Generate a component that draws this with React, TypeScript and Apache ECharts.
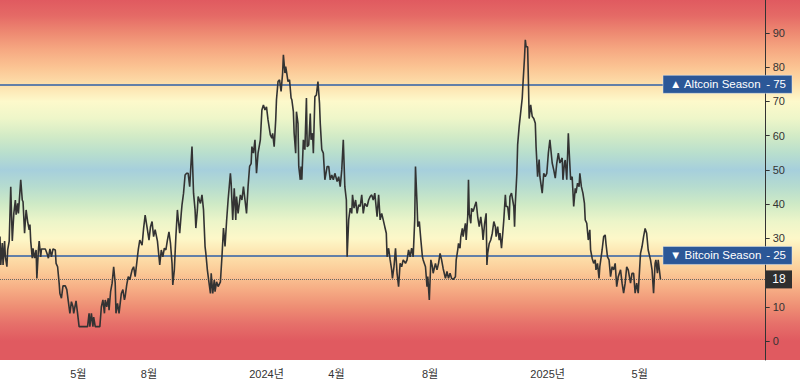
import { useEffect, useRef } from 'react';
import * as echarts from 'echarts';

// ---- data ----
const startDate = '2023-01-19';
const dayOffsets = [
  0, 1, 3, 4, 6, 7, 9, 10, 12, 14, 16, 18, 20, 21, 23, 24, 27, 29, 30, 32, 34, 36, 38, 39, 40, 42, 43, 45, 47, 48,
  50, 51, 53, 54, 59, 61, 63, 65, 67, 69, 72, 73, 75, 77, 78, 80, 82, 85, 87, 89, 91, 93, 95, 96, 99, 101, 103, 109,
  114, 116, 117, 119, 121, 122, 124, 130, 132, 134, 136, 137, 139, 141, 142, 144, 146, 148, 150, 151, 153, 155, 158,
  160, 162, 163, 165, 167, 169, 172, 174, 176, 178, 180, 182, 185, 187, 189, 192, 194, 196, 198, 200, 202, 205, 207,
  208, 210, 212, 214, 216, 218, 220, 222, 224, 225, 227, 229, 231, 232, 234, 236, 237, 239, 241, 243, 245, 247, 248,
  250, 252, 254, 255, 257, 258, 261, 263, 265, 267, 268, 270, 272, 274, 275, 277, 279, 280, 282, 284, 287, 289, 291,
  293, 295, 297, 300, 301, 303, 305, 307, 308, 310, 313, 315, 317, 319, 321, 323, 325, 327, 328, 330, 332, 334, 336,
  339, 341, 343, 345, 347, 349, 352, 354, 355, 357, 359, 360, 362, 364, 366, 368, 369, 371, 372, 373, 375, 377, 379,
  380, 382, 383, 385, 386, 388, 389, 391, 392, 393, 395, 397, 399, 400, 402, 404, 405, 407, 408, 410, 412, 414, 416,
  417, 419, 421, 423, 426, 428, 430, 432, 434, 436, 439, 441, 443, 445, 447, 449, 451, 452, 454, 456, 458, 459, 461,
  463, 465, 467, 469, 471, 473, 475, 478, 480, 482, 484, 486, 488, 491, 493, 495, 497, 499, 501, 503, 504, 506, 508,
  510, 511, 513, 515, 517, 519, 521, 523, 525, 528, 530, 532, 534, 536, 538, 540, 541, 543, 544, 546, 548, 550, 551,
  554, 556, 557, 559, 561, 563, 564, 567, 569, 571, 573, 575, 577, 580, 582, 584, 586, 588, 590, 593, 594, 596, 597,
  599, 600, 602, 603, 606, 607, 609, 610, 611, 613, 614, 616, 618, 620, 622, 624, 626, 628, 629, 631, 633, 634, 635,
  637, 639, 641, 643, 645, 646, 648, 650, 651, 653, 655, 656, 658, 659, 661, 663, 664, 666, 669, 670, 671, 673, 674,
  676, 680, 681, 683, 684, 685, 687, 688, 689, 691, 693, 695, 697, 698, 700, 702, 703, 706, 708, 710, 712, 714, 716,
  719, 721, 723, 725, 727, 729, 732, 733, 735, 736, 738, 740, 741, 743, 745, 747, 749, 750, 752, 754, 755, 757, 759,
  761, 762, 764, 766, 768, 769, 771, 773, 775, 776, 778, 780, 781, 784, 786, 788, 789, 791, 793, 795, 797, 799, 801,
  803, 805, 808, 810, 812, 814, 816, 818, 821, 823, 825, 827, 829, 831, 834, 836, 838, 840, 842, 844, 847, 849, 851,
  853, 854, 856, 857, 860,
];
const indexValues = [
  30.5, 22.2, 28.6, 22.2, 29.2, 24.6, 21.7, 26.6, 29.2, 45.1, 29.2, 37.3, 41.2, 36.9, 40.2, 37.3, 47.1, 41.2, 40.7,
  31.5, 38.3, 34.9, 32.5, 34, 29.2, 24.2, 27.1, 24.2, 26.6, 18.3, 26.6, 29.2, 24.6, 26.9, 26.9, 25.7, 24.2, 26.9,
  24.6, 26.9, 26.6, 22.7, 21.7, 16.9, 13.9, 12.5, 16.1, 16.1, 15, 11.5, 8.1, 11.5, 10, 8.1, 11.7, 8.1, 4.2, 4.2,
  4.2, 8.1, 4.2, 8.1, 4.2, 7, 4.2, 4.2, 10, 12, 8.1, 12, 10, 12.5, 9, 14.4, 16.9, 21.7, 16.9, 8.1, 11, 8.1, 13.9,
  15, 12, 13, 16.4, 18.8, 17.9, 20.8, 21.7, 18.8, 22.7, 26.6, 29.5, 28, 32.9, 36.8, 32.5, 29.5, 33.4, 34.9, 30.5,
  32.5, 29.2, 24.6, 22.2, 26.6, 24.6, 27.1, 26.6, 29.5, 31.9, 28.5, 22.7, 16.4, 20.8, 30.5, 38.3, 35.8, 31.5, 37.3,
  39.8, 43.2, 48.5, 49, 49, 45.1, 49, 56.8, 43.2, 38.3, 33, 38.3, 42.2, 40.2, 42.7, 38.3, 27.6, 25.7, 20.8, 17.3,
  13.9, 19.8, 13.9, 17.8, 14.4, 17.3, 15.9, 17.3, 24.6, 33, 27.6, 34.9, 41.2, 49, 46.1, 35.4, 44.6, 35.4, 42.2,
  37.3, 42.7, 41.2, 45.1, 41.2, 37.3, 45.1, 51, 51.8, 56.8, 54.9, 58.8, 49, 54.9, 58.8, 67.5, 69, 67.5, 68.4, 64.6,
  60.2, 59.3, 60.7, 56.8, 64.6, 70.5, 75.8, 76.3, 72.9, 78.3, 83.6, 78.3, 80.2, 78.8, 75.8, 76.3, 71, 70.5, 67,
  60.7, 54.9, 67, 63.6, 51, 47.1, 51, 47.1, 58.8, 55.9, 71, 56.8, 57.3, 66.5, 58.8, 60.7, 54.9, 71.4, 71.9, 75.8,
  69.5, 63.6, 55.9, 54.9, 47.1, 51, 51, 47.1, 48.5, 47.1, 49, 46.6, 48, 45.1, 50, 58.8, 45.1, 41.2, 24.6, 35.4, 38.8,
  37.3, 42.7, 38.8, 41.2, 37.3, 39.8, 39.3, 42.7, 37.3, 40.2, 39.3, 41.2, 42.2, 42.7, 41.2, 43.2, 36.3, 42.7, 35.4,
  37.3, 35.4, 33.4, 31.5, 24.6, 27.1, 23.7, 20.8, 18.3, 21.7, 27.1, 19.8, 15.9, 22.7, 21.7, 23.7, 22.7, 23.7, 26.6,
  24.6, 27.1, 24.6, 35.4, 51, 40.2, 33.4, 34.9, 29.5, 24.6, 23.7, 21.7, 15.9, 18.8, 12, 23.7, 21.7, 19.8, 22.7,
  20.8, 22.7, 25.6, 23.7, 21.2, 18.3, 20.3, 18.3, 19.8, 18.3, 18, 18.8, 23.7, 26.6, 28.5, 27.1, 30.5, 32.9, 30.5,
  34.4, 29.5, 36.3, 47.1, 37.3, 34.4, 38.8, 37.8, 39.3, 40.7, 36.3, 33.4, 36.3, 32.5, 29.5, 34.4, 37.3, 22.2, 25.6,
  28.5, 29.5, 31.5, 34.9, 33.4, 30.5, 33.4, 29.5, 31.5, 27.1, 32.5, 35.4, 42.7, 39.3, 39.3, 35.4, 42.2, 43.2, 39.3,
  33.4, 40.2, 49, 57.3, 62.7, 71, 75.3, 83, 88, 86, 86, 76.3, 65, 69, 65.6, 65, 63.6, 56.8, 48, 53, 48, 43.2, 49, 48,
  49, 54.9, 58.8, 52, 50, 47.6, 52, 54.9, 52, 53.5, 47.1, 52, 52.9, 47.1, 60.7, 55.9, 47.1, 48, 39.3, 44.6, 43.2,
  46.1, 45.1, 49, 45.1, 43.2, 40.2, 35.4, 34.4, 29.5, 32.5, 26.6, 24.2, 22.7, 23.7, 20.8, 22.7, 18.3, 21.7, 26.6,
  30.5, 31, 28.5, 24.6, 23.7, 18.8, 21.7, 20.8, 22.7, 15.9, 18.8, 20.8, 16.9, 14, 16.9, 21.7, 20.8, 16.9, 19.8,
  19.8, 14, 16.9, 14, 25.6, 27.6, 30.5, 32.9, 31.5, 26.6, 23.7, 20.8, 14, 22.7, 23.7, 19.8, 23.7, 18,
];
const xTickDates = ['2023-05-01', '2023-08-01', '2024-01-01', '2024-04-01', '2024-08-01', '2025-01-01', '2025-05-01'];
const yTickValues = [0, 10, 20, 30, 40, 50, 60, 70, 80, 90];
const yLabelValues = [0, 10, 30, 40, 50, 60, 70, 80, 90]; // 20 is hidden behind the current-value tag
const altcoinLevel = 75;
const bitcoinLevel = 25;
const currentValue = 18;
const xRange = ['2023-01-19', '2025-10-12'];
const yRange = [-5.55, 99.64];
const bandValues = [100, 95, 90, 85, 80, 75, 70, 65, 60, 55, 50, 45, 40, 35, 30, 25, 20, 15, 10, 5, 0];

// ---- styles ----
const bandColors = [
  '#e05a60', '#e56a66', '#ee8a72', '#f6a982', '#fbc493', '#fddfab', '#fdf9cb', '#eef6c9', '#d3ebc6', '#b9dfcd',
  '#a6cfdc', '#b6dccf', '#cfeac6', '#ecf5c9', '#fdf8c9', '#fde1ac', '#fbc996', '#f6ac84', '#ee8e74', '#e6706a',
  '#e05a60',
];
const FONT = '"Liberation Sans", "Noto Sans CJK KR", sans-serif';

function parseDate(s: string) {
  const [y, m, d] = s.split('-').map(Number);
  return new Date(y, m - 1, d).getTime();
}

export default function App() {
  const ref = useRef<HTMLDivElement>(null);
  useEffect(() => {
    if (!ref.current) return;
    const chart = echarts.init(ref.current, null, { renderer: 'svg' });
    const t0 = parseDate(startDate);
    const data = dayOffsets.map((d, i) => [t0 + d * 86400000, indexValues[i]]);
    const span = yRange[1] - yRange[0];
    const stops = bandValues.map((v, i) => ({
      offset: Math.min(1, Math.max(0, (yRange[1] - v) / span)),
      color: bandColors[i],
    }));
    chart.setOption({
      animation: false,
      backgroundColor: '#ffffff',
      grid: { left: 0, right: 34.3, top: 0, bottom: 24 },
      xAxis: {
        type: 'value',
        min: parseDate(xRange[0]),
        max: parseDate(xRange[1]),
        axisLine: { show: false },
        axisTick: { show: false },
        splitLine: { show: false },
        axisLabel: {
          customValues: xTickDates.map(parseDate),
          color: '#333',
          fontSize: 11,
          fontFamily: FONT,
          margin: 8,
          formatter: (val: number) => {
            const d = new Date(val);
            return d.getMonth() === 0 ? `${d.getFullYear()}년` : `${d.getMonth() + 1}월`;
          },
        },
      },
      yAxis: {
        type: 'value',
        position: 'right',
        min: yRange[0],
        max: yRange[1],
        splitLine: { show: false },
        axisLine: { show: true, lineStyle: { color: '#333', width: 1 } },
        axisTick: { show: true, customValues: yTickValues, length: 4, lineStyle: { color: '#333' } },
        axisLabel: {
          customValues: yLabelValues,
          color: '#333',
          fontSize: 11,
          fontFamily: FONT,
          margin: 7,
        },
      },
      series: [
        {
          type: 'line',
          data,
          showSymbol: false,
          symbol: 'none',
          z: 5,
          lineStyle: { color: '#333333', width: 1.6 },
          markLine: {
            silent: true,
            symbol: 'none',
            label: { show: false },
            z: 3,
            data: [
              { yAxis: altcoinLevel, lineStyle: { color: '#2f5fa7', width: 1.5, type: 'solid' } },
              { yAxis: bitcoinLevel, lineStyle: { color: '#2f5fa7', width: 1.5, type: 'solid' } },
              { yAxis: currentValue, lineStyle: { color: '#666', width: 1, type: 'dotted' } },
            ],
          },
        },
      ],
    });

    const yAlt = chart.convertToPixel({ yAxisIndex: 0 }, altcoinLevel) as number;
    const yBtc = chart.convertToPixel({ yAxisIndex: 0 }, bitcoinLevel) as number;
    const yCur = chart.convertToPixel({ yAxisIndex: 0 }, currentValue) as number;
    const yTop = chart.convertToPixel({ yAxisIndex: 0 }, yRange[1]) as number;
    const yBot = chart.convertToPixel({ yAxisIndex: 0 }, yRange[0]) as number;

    const box = (y: number, arrow: string, name: string, value: number) => [
      { type: 'rect', z: 100, shape: { x: 663, y: y - 9, width: 129, height: 18 }, style: { fill: '#2b5797', stroke: '#dfe6f0', lineWidth: 0.5 } },
      { type: 'text', z: 101, x: 670, y, style: { text: `${arrow} ${name}`, fill: '#fff', font: `11.5px ${FONT}`, align: 'left', verticalAlign: 'middle' } },
      { type: 'text', z: 101, x: 786, y, style: { text: `- ${value}`, fill: '#fff', font: `11.5px ${FONT}`, align: 'right', verticalAlign: 'middle' } },
    ];

    chart.setOption({
      graphic: [
        {
          type: 'rect',
          z: -10,
          silent: true,
          shape: { x: 0, y: yTop, width: 800, height: yBot - yTop },
          style: { fill: new echarts.graphic.LinearGradient(0, 0, 0, 1, stops) },
        },
        ...box(yAlt, '▲', 'Altcoin Season', altcoinLevel),
        ...box(yBtc, '▼', 'Bitcoin Season', bitcoinLevel),
        { type: 'rect', z: 100, shape: { x: 766, y: yCur - 9, width: 26, height: 18 }, style: { fill: '#2f2f2f' } },
        { type: 'text', z: 101, x: 779, y: yCur, style: { text: `${currentValue}`, fill: '#fff', font: `12px ${FONT}`, align: 'center', verticalAlign: 'middle' } },
      ],
    });

    return () => chart.dispose();
  }, []);
  return <div ref={ref} style={{ position: 'fixed', left: 0, top: 0, width: 800, height: 384 }} />;
}
